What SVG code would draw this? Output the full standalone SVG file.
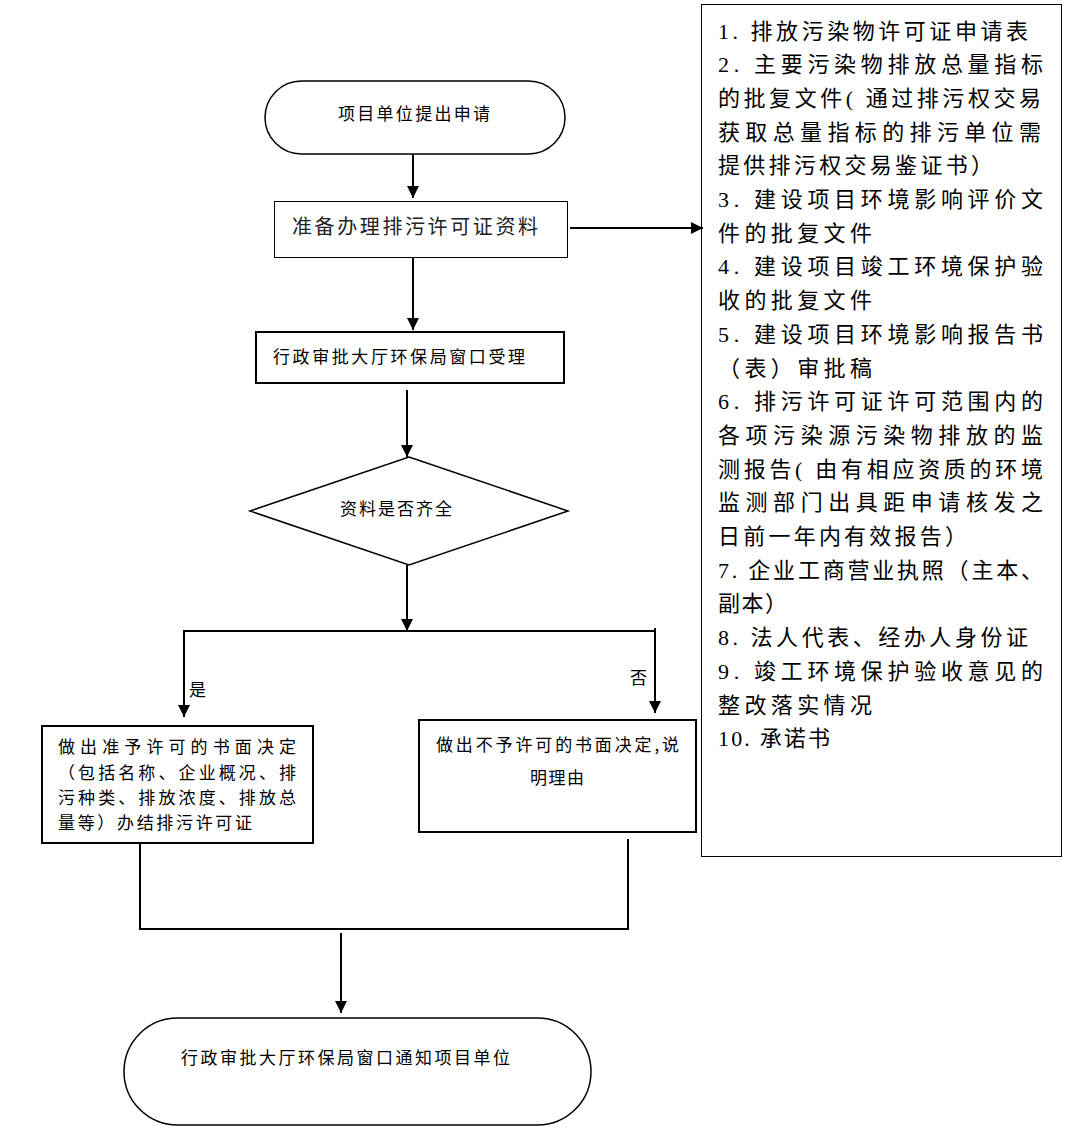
<svg xmlns="http://www.w3.org/2000/svg" width="1088" height="1148" viewBox="0 0 1088 1148">
<style>
.shape{fill:#fff;stroke:#000}
.t{font-family:"Noto Sans CJK SC","Liberation Sans",sans-serif;font-size:17px;fill:#000}
.big{font-size:20px;fill:#222}
.r{font-family:"Liberation Serif","Noto Sans CJK SC",serif;font-size:22px;fill:#000}
.c{fill:none;stroke:#000;stroke-width:2}
</style>
<defs>
<marker id="ah" viewBox="0 0 12 12" refX="12" refY="6" markerWidth="12" markerHeight="12" markerUnits="userSpaceOnUse" orient="auto"><path d="M0,0 L12,6 L0,12 z" fill="#000"/></marker>
</defs>
<rect width="1088" height="1148" fill="#fff"/>

<g id="start">
<rect class="shape" x="265" y="81" width="300" height="73" rx="36.5" stroke-width="1.5"/>
<text class="t" x="338" y="120" textLength="152" lengthAdjust="spacing">项目单位提出申请</text>
</g>

<g id="prepare">
<rect class="shape" x="274.5" y="201.5" width="293" height="56" stroke-width="1"/>
<text class="t big" x="292" y="234" textLength="246" lengthAdjust="spacing">准备办理排污许可证资料</text>
</g>

<g id="accept">
<rect class="shape" x="256" y="332" width="308" height="51" stroke-width="2"/>
<text class="t" x="273" y="363" textLength="252" lengthAdjust="spacing">行政审批大厅环保局窗口受理</text>
</g>

<g id="check">
<polygon class="shape" points="409,457 568,511 409,565 250,511" stroke-width="1.5"/>
<text class="t" x="340" y="515" textLength="112" lengthAdjust="spacing">资料是否齐全</text>
</g>

<g id="approve">
<rect class="shape" x="42" y="726" width="271" height="117" stroke-width="2"/>
<text class="t" x="58" y="753" textLength="238" lengthAdjust="spacing">做出准予许可的书面决定</text>
<text class="t" x="58" y="779" textLength="238" lengthAdjust="spacing">（包括名称、企业概况、排</text>
<text class="t" x="58" y="804" textLength="238" lengthAdjust="spacing">污种类、排放浓度、排放总</text>
<text class="t" x="58" y="829" textLength="194" lengthAdjust="spacing">量等）办结排污许可证</text>
</g>

<g id="reject">
<rect class="shape" x="419" y="720" width="277" height="112" stroke-width="2"/>
<text class="t" x="436" y="751" textLength="243" lengthAdjust="spacing">做出不予许可的书面决定,说</text>
<text class="t" x="530" y="784" textLength="54" lengthAdjust="spacing">明理由</text>
</g>

<g id="notify">
<rect class="shape" x="124" y="1018" width="467" height="107" rx="53.5" stroke-width="1.5"/>
<text class="t" x="181" y="1064" textLength="329" lengthAdjust="spacing">行政审批大厅环保局窗口通知项目单位</text>
</g>

<g id="materials">
<rect class="shape" x="701.5" y="4.5" width="360" height="852" stroke-width="1"/>
<text class="r" x="718" y="38.5" textLength="310" lengthAdjust="spacing">1. 排放污染物许可证申请表</text>
<text class="r" x="718" y="72.2" textLength="325" lengthAdjust="spacing">2. 主要污染物排放总量指标</text>
<text class="r" x="718" y="105.9" textLength="323" lengthAdjust="spacing">的批复文件( 通过排污权交易</text>
<text class="r" x="718" y="139.6" textLength="323" lengthAdjust="spacing">获取总量指标的排污单位需</text>
<text class="r" x="718" y="173.3" textLength="275" lengthAdjust="spacing">提供排污权交易鉴证书）</text>
<text class="r" x="718" y="207" textLength="325" lengthAdjust="spacing">3. 建设项目环境影响评价文</text>
<text class="r" x="718" y="240.7" textLength="154" lengthAdjust="spacing">件的批复文件</text>
<text class="r" x="718" y="274.4" textLength="325" lengthAdjust="spacing">4. 建设项目竣工环境保护验</text>
<text class="r" x="718" y="308.1" textLength="154" lengthAdjust="spacing">收的批复文件</text>
<text class="r" x="718" y="341.8" textLength="325" lengthAdjust="spacing">5. 建设项目环境影响报告书</text>
<text class="r" x="718" y="375.5" textLength="154" lengthAdjust="spacing">（表）审批稿</text>
<text class="r" x="718" y="409.2" textLength="325" lengthAdjust="spacing">6. 排污许可证许可范围内的</text>
<text class="r" x="718" y="442.9" textLength="325" lengthAdjust="spacing">各项污染源污染物排放的监</text>
<text class="r" x="718" y="476.6" textLength="325" lengthAdjust="spacing">测报告( 由有相应资质的环境</text>
<text class="r" x="718" y="510.3" textLength="325" lengthAdjust="spacing">监测部门出具距申请核发之</text>
<text class="r" x="718" y="544" textLength="249" lengthAdjust="spacing">日前一年内有效报告）</text>
<text class="r" x="718" y="577.7" textLength="325" lengthAdjust="spacing">7. 企业工商营业执照（主本、</text>
<text class="r" x="718" y="611.4" textLength="69" lengthAdjust="spacing">副本）</text>
<text class="r" x="718" y="645.1" textLength="310" lengthAdjust="spacing">8. 法人代表、经办人身份证</text>
<text class="r" x="718" y="678.8" textLength="325" lengthAdjust="spacing">9. 竣工环境保护验收意见的</text>
<text class="r" x="718" y="712.5" textLength="154" lengthAdjust="spacing">整改落实情况</text>
<text class="r" x="718" y="746.2" textLength="112" lengthAdjust="spacing">10. 承诺书</text>
</g>

<g id="connectors">
<line class="c" x1="413" y1="154" x2="413" y2="198" marker-end="url(#ah)"/>
<line class="c" x1="570" y1="228" x2="703" y2="228" marker-end="url(#ah)"/>
<line class="c" x1="413" y1="257" x2="413" y2="330" marker-end="url(#ah)"/>
<line class="c" x1="407" y1="390" x2="407" y2="457" marker-end="url(#ah)"/>
<line class="c" x1="407" y1="565" x2="407" y2="631" marker-end="url(#ah)"/>
<polyline class="c" points="184,640 184,631 655,631"/>
<line class="c" x1="184" y1="631" x2="184" y2="717" marker-end="url(#ah)"/>
<line class="c" x1="655" y1="628" x2="655" y2="713" marker-end="url(#ah)"/>
<polyline class="c" points="140,843 140,929 628,929 628,839"/>
<line class="c" x1="341" y1="933" x2="341" y2="1013" marker-end="url(#ah)"/>
<text class="t" x="189" y="696">是</text>
<text class="t" x="630" y="684">否</text>
</g>
</svg>
